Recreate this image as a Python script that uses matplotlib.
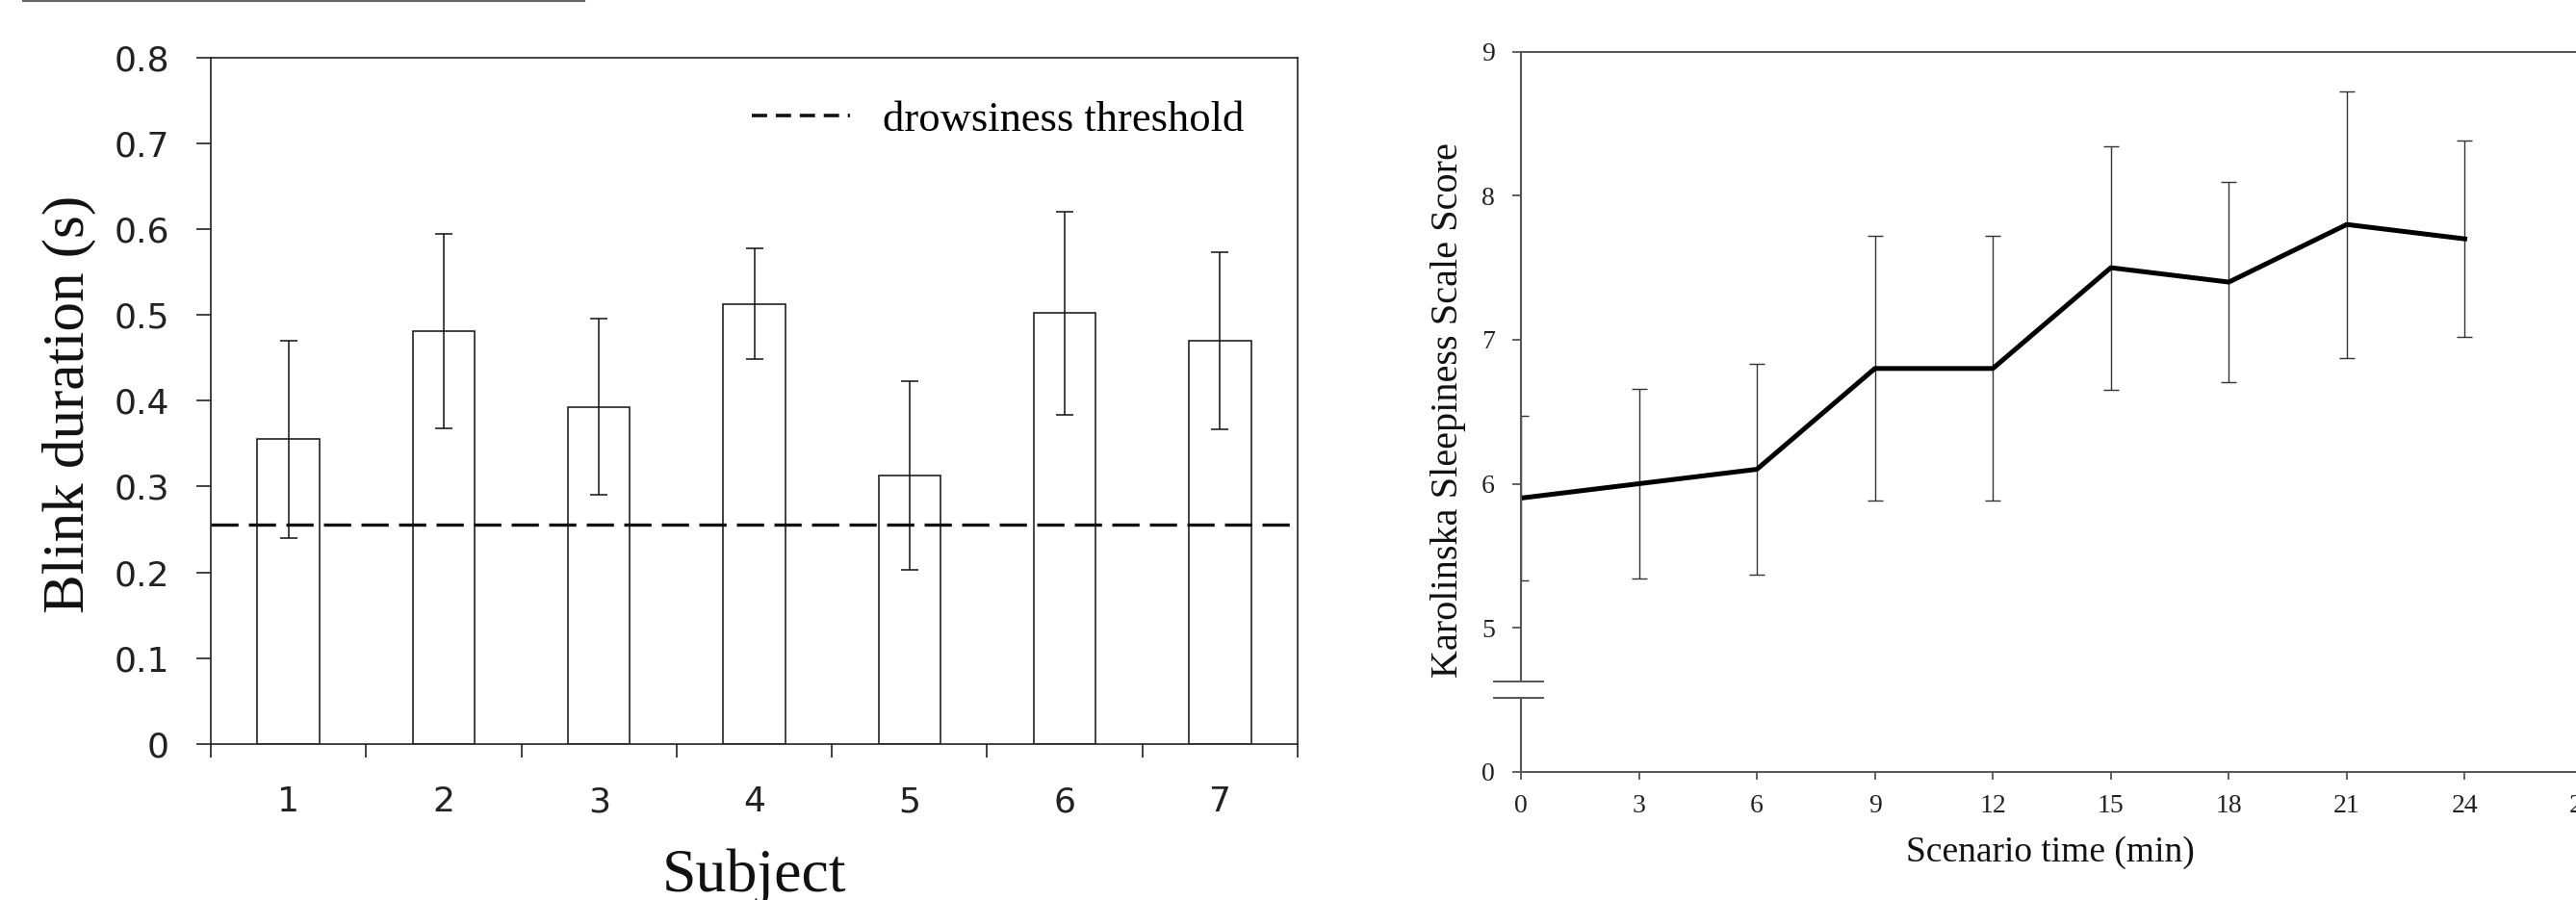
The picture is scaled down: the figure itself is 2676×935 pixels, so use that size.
import matplotlib
matplotlib.use('Agg')
import matplotlib.pyplot as plt
from matplotlib.lines import Line2D
import matplotlib.transforms as mtransforms
import numpy as np

# ---------------- data ----------------
subjects = [1, 2, 3, 4, 5, 6, 7]
blink_mean = [0.355, 0.481, 0.393, 0.513, 0.313, 0.502, 0.470]
blink_err = [0.115, 0.113, 0.103, 0.065, 0.110, 0.118, 0.103]
threshold = 0.2555
blink_yticks = [0, 0.1, 0.2, 0.3, 0.4, 0.5, 0.6, 0.7, 0.8]
blink_yticklabels = ['0', '0.1', '0.2', '0.3', '0.4', '0.5', '0.6', '0.7', '0.8']

times = [0, 3, 6, 9, 12, 15, 18, 21, 24]
kss_mean = [5.9, 6.0, 6.1, 6.8, 6.8, 7.5, 7.4, 7.8, 7.7]
kss_err = [0.57, 0.66, 0.735, 0.92, 0.92, 0.845, 0.695, 0.925, 0.68]
time_ticks = [0, 3, 6, 9, 12, 15, 18, 21, 24, 27]
kss_yticks = [4, 5, 6, 7, 8, 9]
kss_yticklabels = ['0', '5', '6', '7', '8', '9']

# ---------------- figure ----------------
W, H = 2676, 935
DPI = 100
fig = plt.figure(figsize=(W / DPI, H / DPI), dpi=DPI, facecolor='white')

SERIF = 'Liberation Serif'
SANS = 'DejaVu Sans'

# ---------- left chart ----------
L, R, T, B = 219, 1348, 59.6, 773
ax1 = fig.add_axes([L / W, 1 - B / H, (R - L) / W, (B - T) / H])
ax1.bar(subjects, blink_mean, width=0.4, color='white', edgecolor='#111111',
        linewidth=1.1, zorder=2)
ax1.errorbar(subjects, blink_mean, yerr=blink_err, fmt='none', ecolor='#111111',
             elinewidth=1.1, capsize=6.5, capthick=1.1, zorder=3)
ax1.axhline(threshold, color='#111111', lw=2.4, ls=(0, (8.5, 3.2)), zorder=4)
ax1.set_xlim(0.5, 7.5)
ax1.set_ylim(0, 0.8)
ax1.set_yticks(blink_yticks)
ax1.set_yticklabels(blink_yticklabels, fontfamily=SANS, fontsize=26, color='#222222')
ax1.set_xticks(subjects)
ax1.set_xticklabels([str(s) for s in subjects], fontfamily=SANS, fontsize=26, color='#222222')
ax1.set_xticks(np.arange(0.5, 8.0, 1.0), minor=True)
ax1.tick_params(axis='x', which='major', length=0, pad=31)
ax1.tick_params(axis='x', which='minor', length=10, width=1.2, direction='out', color='#222222')
ax1.tick_params(axis='y', which='major', length=11, width=1.2, direction='out', pad=20,
                color='#222222')
for sp in ax1.spines.values():
    sp.set_color('#222222')
    sp.set_linewidth(1.2)

proxy = Line2D([], [], color='#111111', lw=2.6, ls=(0, (4.4, 2.5)))
ax1.legend([proxy], ['drowsiness threshold'], loc='center left',
           bbox_to_anchor=(0.4978, 0.9089), frameon=False,
           prop={'family': SERIF, 'size': 32}, handlelength=2.29,
           handletextpad=0.77, borderpad=0, borderaxespad=0)

fig.text(72 / W, 1 - 420 / H, 'Blink duration (s)', rotation=90, ha='center', va='center',
         fontfamily=SERIF, fontsize=44, color='#111111')
fig.text((L + R) / 2 / W, 1 - 926 / H, 'Subject', ha='center', va='baseline',
         fontfamily=SERIF, fontsize=46, color='#111111')

# ---------- right chart ----------
L2, R2, T2, B2 = 1580, 2683, 53.7, 801.7
ax2 = fig.add_axes([L2 / W, 1 - B2 / H, (R2 - L2) / W, (B2 - T2) / H])
ax2.errorbar(times, kss_mean, yerr=kss_err, fmt='none', ecolor='#333333',
             elinewidth=1.0, capsize=5.5, capthick=1.0, zorder=2)
ax2.plot(times, kss_mean, color='black', lw=3.6, zorder=3)
ax2.set_xlim(0, 27)
ax2.set_ylim(4, 9)
ax2.set_xticks(time_ticks)
ax2.set_xticklabels([str(t) for t in time_ticks], fontfamily=SERIF, fontsize=20, color='#222222')
ax2.set_yticks(kss_yticks)
ax2.set_yticklabels(kss_yticklabels, fontfamily=SERIF, fontsize=20, color='#222222')
ax2.tick_params(axis='x', length=5.8, width=1.3, direction='out', pad=11, color='#555555')
ax2.tick_params(axis='y', length=6.5, width=1.3, direction='out', pad=13, color='#555555')
ax2.spines['left'].set_visible(False)
ax2.spines['right'].set_visible(False)
for k in ('top', 'bottom'):
    ax2.spines[k].set_color('#555555')
    ax2.spines[k].set_linewidth(1.4)

# broken left spine
brk_lo, brk_hi = 4.516, 4.623
trans = mtransforms.blended_transform_factory(ax2.transAxes, ax2.transData)
ax2.plot([0, 0], [4, brk_lo], transform=trans, color='#555555', lw=1.5, clip_on=False, zorder=5)
ax2.plot([0, 0], [brk_hi, 9], transform=trans, color='#555555', lw=1.5, clip_on=False, zorder=5)
ax2.plot([-0.69, 0.57], [brk_lo, brk_lo], color='#555555', lw=1.4, clip_on=False, zorder=5)
ax2.plot([-0.69, 0.57], [brk_hi, brk_hi], color='#555555', lw=1.4, clip_on=False, zorder=5)

fig.text(1504.5 / W, 1 - 426 / H, 'Karolinska Sleepiness Scale Score', rotation=90,
         ha='center', va='center', fontfamily=SERIF, fontsize=29, color='#111111')
fig.text(2130 / W, 1 - 895 / H, 'Scenario time (min)', ha='center', va='baseline',
         fontfamily=SERIF, fontsize=27, color='#111111')

# thin line at the top left (crop remnant)
fig.add_artist(Line2D([24.5 / W, 607 / W], [1 - 1 / H, 1 - 1 / H], transform=fig.transFigure,
                      color='#666666', lw=1.5))

fig.savefig('out.png', dpi=DPI, facecolor='white')
